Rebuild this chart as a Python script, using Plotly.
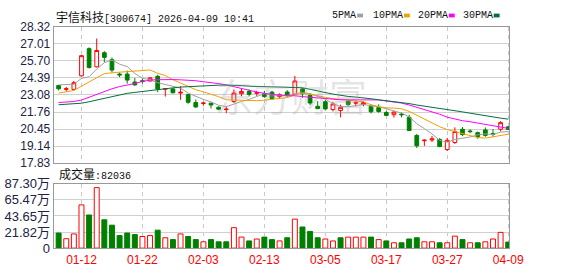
import plotly.graph_objects as go

# ---------------- data ----------------
dates = [
    "2026-01-07", "2026-01-08", "2026-01-09", "2026-01-12", "2026-01-13", "2026-01-14",
    "2026-01-15", "2026-01-16", "2026-01-19", "2026-01-20", "2026-01-21", "2026-01-22",
    "2026-01-23", "2026-01-26", "2026-01-27", "2026-01-28", "2026-01-29", "2026-01-30",
    "2026-02-02", "2026-02-03", "2026-02-04", "2026-02-05", "2026-02-06", "2026-02-09",
    "2026-02-10", "2026-02-11", "2026-02-12", "2026-02-13", "2026-02-24", "2026-02-25",
    "2026-02-26", "2026-02-27", "2026-03-02", "2026-03-03", "2026-03-04", "2026-03-05",
    "2026-03-06", "2026-03-09", "2026-03-10", "2026-03-11", "2026-03-12", "2026-03-13",
    "2026-03-16", "2026-03-17", "2026-03-18", "2026-03-19", "2026-03-20", "2026-03-23",
    "2026-03-24", "2026-03-25", "2026-03-26", "2026-03-27", "2026-03-30", "2026-03-31",
    "2026-04-01", "2026-04-02", "2026-04-03", "2026-04-07", "2026-04-08", "2026-04-09",
]
opens = [23.80, 23.50, 23.50, 24.55, 26.64, 25.24, 26.33, 25.79, 24.68, 24.68,
         24.07, 24.17, 24.15, 24.51, 23.52, 23.54, 23.22, 23.10, 22.49, 22.42,
         22.44, 22.13, 21.95, 22.57, 23.17, 23.35, 23.20, 23.18, 23.29, 22.95,
         23.30, 23.10, 23.54, 23.05, 22.20, 22.55, 21.95, 21.88, 22.60, 22.44,
         22.33, 22.20, 22.10, 21.72, 21.55, 21.60, 21.35, 19.96, 19.55, 19.60,
         19.65, 18.87, 19.41, 20.43, 20.30, 20.17, 20.38, 20.10, 20.43, 20.62]
highs = [23.85, 23.70, 24.15, 26.15, 26.74, 27.42, 26.45, 25.97, 24.80, 24.95,
         24.39, 24.35, 24.45, 24.63, 23.60, 23.60, 23.75, 23.17, 22.73, 22.55,
         22.49, 22.20, 22.20, 23.50, 23.55, 23.50, 23.40, 23.40, 23.40, 23.20,
         23.45, 24.55, 23.60, 23.20, 22.60, 22.68, 22.55, 22.33, 22.70, 22.62,
         22.60, 22.35, 22.35, 21.85, 21.86, 21.72, 21.55, 20.07, 19.65, 19.92,
         19.75, 19.77, 20.58, 20.60, 20.42, 20.25, 20.57, 20.45, 21.06, 20.65]
lows = [23.42, 23.35, 23.42, 24.50, 25.11, 25.20, 25.60, 24.80, 24.45, 23.95,
        23.78, 23.95, 24.10, 23.29, 22.95, 23.20, 22.70, 22.40, 22.08, 22.25,
        22.03, 21.90, 21.67, 22.45, 22.98, 22.95, 23.00, 22.85, 22.70, 22.80,
        22.95, 23.05, 22.85, 22.30, 21.99, 21.90, 21.80, 21.35, 22.20, 22.20,
        22.20, 21.65, 21.70, 21.45, 21.33, 21.35, 20.30, 18.99, 19.15, 19.45,
        19.05, 18.76, 19.30, 19.90, 20.12, 19.70, 19.85, 19.85, 20.26, 20.38]
closes = [23.55, 23.55, 24.02, 26.10, 25.19, 26.50, 25.97, 24.99, 24.62, 24.22,
          23.85, 24.12, 24.39, 23.53, 23.55, 23.24, 23.28, 22.51, 22.15, 22.45,
          22.30, 21.98, 21.98, 23.22, 23.35, 23.12, 23.24, 22.95, 22.78, 23.10,
          23.02, 24.15, 23.17, 22.45, 22.02, 22.00, 22.38, 22.12, 22.33, 22.48,
          22.48, 21.78, 21.80, 21.50, 21.75, 21.55, 20.33, 19.16, 19.59, 19.70,
          19.10, 19.58, 20.26, 20.02, 20.25, 19.87, 19.96, 20.05, 20.94, 20.42]

ma5 = [23.85, 23.85, 23.90, 24.35, 24.48, 25.07, 25.56, 25.75, 25.45, 25.26,
       24.73, 24.36, 24.24, 24.02, 23.89, 23.77, 23.60, 23.22, 22.95, 22.73,
       22.54, 22.28, 22.17, 22.39, 22.57, 22.73, 22.98, 23.18, 23.09, 23.04,
       23.02, 23.20, 23.24, 23.18, 22.96, 22.76, 22.40, 22.19, 22.16, 22.25,
       22.35, 22.23, 22.16, 22.01, 21.86, 21.68, 21.39, 20.86, 20.48, 20.07,
       19.58, 19.43, 19.65, 19.73, 19.84, 20.00, 20.07, 20.03, 20.21, 20.25]
ma10 = [23.22, 23.30, 23.42, 23.75, 24.10, 24.40, 24.72, 24.80, 24.83, 24.87,
        24.90, 24.96, 25.00, 24.74, 24.57, 24.25, 23.98, 23.73, 23.48, 23.31,
        23.15, 22.94, 22.70, 22.67, 22.65, 22.63, 22.63, 22.67, 22.74, 22.80,
        22.87, 23.09, 23.21, 23.13, 23.00, 22.89, 22.80, 22.72, 22.67, 22.61,
        22.55, 22.32, 22.18, 22.08, 22.06, 22.01, 21.81, 21.51, 21.24, 20.96,
        20.63, 20.41, 20.25, 20.10, 19.95, 19.79, 19.75, 19.84, 19.97, 20.05]
ma20 = [22.49, 22.52, 22.57, 22.68, 22.90, 23.15, 23.35, 23.55, 23.72, 23.83,
        23.95, 24.12, 24.22, 24.25, 24.28, 24.26, 24.24, 24.22, 24.17, 24.09,
        24.03, 23.95, 23.85, 23.70, 23.61, 23.44, 23.30, 23.20, 23.11, 23.05,
        23.01, 23.01, 22.95, 22.90, 22.82, 22.76, 22.72, 22.70, 22.70, 22.70,
        22.71, 22.70, 22.69, 22.61, 22.53, 22.45, 22.30, 22.12, 21.96, 21.79,
        21.59, 21.36, 21.22, 21.09, 21.01, 20.90, 20.78, 20.67, 20.61, 20.50]
ma30 = [22.32, 22.35, 22.38, 22.44, 22.55, 22.68, 22.80, 22.90, 23.05, 23.20,
        23.27, 23.35, 23.42, 23.50, 23.56, 23.62, 23.68, 23.72, 23.76, 23.80,
        23.82, 23.83, 23.83, 23.83, 23.80, 23.75, 23.73, 23.72, 23.70, 23.66,
        23.64, 23.66, 23.63, 23.51, 23.41, 23.26, 23.14, 23.04, 22.96, 22.91,
        22.86, 22.78, 22.70, 22.63, 22.57, 22.51, 22.41, 22.30, 22.22, 22.12,
        22.02, 21.94, 21.88, 21.77, 21.67, 21.56, 21.45, 21.36, 21.29, 21.21]

# volume in 万 (10k) ; 1 = closed up vs previous day (red), 0 = down (green)
vol_wan = [20.5, 12.8, 19.3, 58.7, 45.0, 82.2, 38.5, 31.2, 17.1, 20.5,
           18.4, 15.8, 17.1, 24.4, 14.1, 11.6, 19.3, 15.8, 11.6, 8.6,
           11.6, 8.6, 8.6, 27.8, 15.0, 9.8, 12.4, 15.0, 11.6, 9.8,
           14.1, 39.4, 28.7, 22.7, 14.1, 12.4, 9.8, 14.1, 15.0, 15.0,
           15.0, 15.0, 11.6, 9.8, 7.3, 7.3, 12.4, 14.1, 8.6, 8.6,
           7.3, 7.3, 16.3, 11.6, 7.3, 7.3, 8.6, 12.4, 21.4, 8.2036]
vol_up = [0, 1, 1, 1, 0, 1, 0, 0, 0, 0,
          0, 1, 1, 0, 1, 0, 1, 0, 0, 1,
          0, 0, 0, 1, 1, 0, 1, 0, 0, 1,
          0, 1, 0, 0, 0, 1, 1, 0, 1, 1,
          1, 0, 1, 0, 1, 0, 0, 0, 1, 1,
          0, 1, 1, 0, 1, 0, 1, 1, 1, 0]

price_ticks = [28.32, 27.01, 25.70, 24.39, 23.08, 21.76, 20.45, 19.14, 17.83]
vol_ticks = [0, 21.82, 43.65, 65.47, 87.30]
date_ticks = ["2026-01-12", "2026-01-22", "2026-02-03", "2026-02-13",
              "2026-03-05", "2026-03-17", "2026-03-27", "2026-04-09"]

stock_name = "宇信科技"
stock_code = "300674"
stamp = "2026-04-09 10:41"

# ---------------- styling ----------------
RED = "#ff0000"
GREEN = "#008000"
MA_COLORS = {"5PMA": "#a0a0a0", "10PMA": "#f0a000", "20PMA": "#ff00ff", "30PMA": "#00703c"}
W, H = 578, 276
X0, X1 = 55, 522
P_TOP, P_BOT = 21, 165
V_TOP, V_BOT = 187, 255


def px_x(v):
    return v / W


def px_y(v):
    return 1 - v / H


fig = go.Figure()

fig.add_trace(go.Candlestick(
    x=dates, open=opens, high=highs, low=lows, close=closes,
    increasing=dict(line=dict(color=RED, width=1), fillcolor="#ffffff"),
    decreasing=dict(line=dict(color=GREEN, width=1), fillcolor=GREEN),
    whiskerwidth=0, xaxis="x", yaxis="y", showlegend=False, hoverinfo="skip",
))
for name, series in zip(["5PMA", "10PMA", "20PMA", "30PMA"], [ma5, ma10, ma20, ma30]):
    fig.add_trace(go.Scatter(
        x=dates, y=series, mode="lines", name=name,
        line=dict(color=MA_COLORS[name], width=1),
        xaxis="x", yaxis="y", showlegend=False, hoverinfo="skip",
    ))

fig.add_trace(go.Bar(
    x=dates, y=vol_wan,
    marker=dict(color=["#ffffff" if u else GREEN for u in vol_up],
                line=dict(color=[RED if u else GREEN for u in vol_up], width=1)),
    xaxis="x2", yaxis="y2", showlegend=False, hoverinfo="skip",
))

xrange = [-0.65, len(dates) - 0.85]
common_x = dict(
    domain=[px_x(X0), px_x(X1)], type="category", range=xrange,
    tickvals=date_ticks, showgrid=True, gridcolor="#c8c8c8", griddash="4px,4px",
    gridwidth=1, showline=True, mirror=True, linecolor="#999999", linewidth=1,
    zeroline=False, ticks="", fixedrange=True,
)
fig.update_layout(
    width=W, height=H, margin=dict(l=0, r=0, t=0, b=0),
    paper_bgcolor="#ffffff", plot_bgcolor="#ffffff",
    bargap=0.35, boxgap=0.3, showlegend=False,
    font=dict(family="Liberation Sans, Noto Sans CJK SC", size=12, color="#333333"),
    xaxis=dict(common_x, anchor="y", showticklabels=False,
               rangeslider=dict(visible=False)),
    yaxis=dict(
        domain=[px_y(P_BOT), px_y(P_TOP)], range=[price_ticks[-1], price_ticks[0]],
        tickvals=price_ticks, ticktext=[f"{v:.2f}" for v in price_ticks],
        showgrid=True, gridcolor="#d0d0d0", gridwidth=1, zeroline=False,
        showline=True, mirror=True, linecolor="#999999", ticks="", anchor="x",
        tickfont=dict(family="Liberation Sans", size=12, color="#222244"),
    ),
    xaxis2=dict(common_x, anchor="y2", ticktext=[d[5:] for d in date_ticks],
                tickfont=dict(family="Liberation Sans", size=12, color=RED)),
    yaxis2=dict(
        domain=[px_y(V_BOT), px_y(V_TOP)], range=[0, vol_ticks[-1]],
        tickvals=vol_ticks,
        ticktext=["0" if v == 0 else f"{v:.2f}万" for v in vol_ticks],
        showgrid=True, gridcolor="#d0d0d0", gridwidth=1, zeroline=False,
        showline=True, mirror=True, linecolor="#999999", ticks="", anchor="x2",
        tickfont=dict(family="Liberation Sans, Noto Sans CJK SC", size=13, color="#222244"),
    ),
)

CJK = "font-family:'Noto Sans CJK SC';font-size:12px"
annotations = [
    dict(x=px_x(55), y=px_y(10), xref="paper", yref="paper", xanchor="left", yanchor="middle",
         showarrow=False,
         text=f"<span style=\"{CJK}\">{stock_name}</span>[{stock_code}] {stamp}",
         font=dict(family="Liberation Mono", size=10, color="#111111")),
    dict(x=px_x(58), y=px_y(176), xref="paper", yref="paper", xanchor="left", yanchor="middle",
         showarrow=False,
         text=f"<span style=\"{CJK}\">成交量</span>:{round(vol_wan[-1] * 10000)}",
         font=dict(family="Liberation Mono", size=10, color="#111111")),
    dict(x=px_x(298), y=px_y(93), xref="paper", yref="paper", xanchor="center", yanchor="middle",
         showarrow=False, text="东方财富",
         font=dict(family="Noto Sans CJK SC", size=38, color="rgba(160,160,160,0.28)")),
]
shapes = []
legend_x = {"5PMA": 338, "10PMA": 380, "20PMA": 426, "30PMA": 472}
for name, lx in legend_x.items():
    annotations.append(dict(
        x=px_x(lx), y=px_y(9), xref="paper", yref="paper", xanchor="left", yanchor="middle",
        showarrow=False, text=name, font=dict(family="Liberation Mono", size=10, color="#111111")))
    sx = lx + 6 * len(name) + 4
    shapes.append(dict(type="rect", xref="paper", yref="paper",
                       x0=px_x(sx), x1=px_x(sx + 6), y0=px_y(11), y1=px_y(7),
                       fillcolor=MA_COLORS[name], line=dict(width=0)))
fig.update_layout(annotations=annotations, shapes=shapes)

fig.write_html("out.html")
